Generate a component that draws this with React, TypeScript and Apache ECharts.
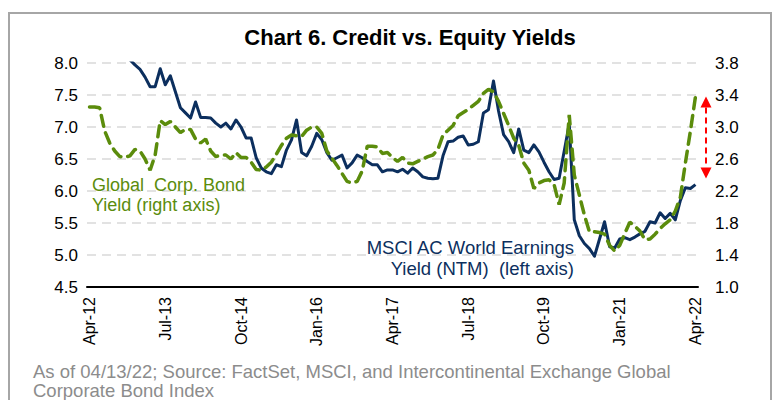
import React, { useEffect, useRef } from "react";
import * as echarts from "echarts";

const monthNames = ["Jan", "Feb", "Mar", "Apr", "May", "Jun", "Jul", "Aug", "Sep", "Oct", "Nov", "Dec"];

// Monthly categories Apr-12 .. Apr-22
const categories: string[] = [];
for (let i = 0; i < 121; i++) {
  const mi = 3 + i;
  categories.push(monthNames[mi % 12] + "-" + String(12 + Math.floor(mi / 12)).padStart(2, "0"));
}

const tickLabels = ["Apr-12", "Jul-13", "Oct-14", "Jan-16", "Apr-17", "Jul-18", "Oct-19", "Jan-21", "Apr-22"];

// MSCI AC World earnings yield (NTM), left axis, %
const msciYield: (number | null)[] = [
  null, null, null, null, null, null, null, null, 8.05, 7.97,
  7.9, 7.78, 7.63, 7.63, 7.91, 7.66, 7.8, 7.55, 7.3, 7.22,
  7.14, 7.39, 7.15, 7.15, 7.14, 7.06, 7.0, 7.06, 6.97, 7.11,
  7.0, 6.83, 6.83, 6.52, 6.36, 6.3, 6.27, 6.41, 6.38, 6.64,
  6.8, 7.11, 6.6, 6.55, 6.7, 6.9, 6.8, 6.6, 6.48, 6.52,
  6.56, 6.36, 6.44, 6.56, 6.52, 6.46, 6.41, 6.41, 6.3, 6.33,
  6.33, 6.3, 6.34, 6.28, 6.36, 6.3, 6.22, 6.2, 6.19, 6.2,
  6.55, 6.77, 6.78, 6.84, 6.86, 6.72, 6.73, 6.77, 7.22, 7.27,
  7.72, 7.25, 6.88, 6.77, 6.6, 6.97, 6.64, 6.6, 6.72, 6.61,
  6.45, 6.3, 6.18, 6.2, 6.62, 7.05, 5.55, 5.3, 5.18, 5.1,
  4.98, 5.25, 5.52, 5.13, 5.11, 5.25, 5.27, 5.24, 5.28, 5.33,
  5.37, 5.52, 5.5, 5.66, 5.57, 5.65, 5.55, 5.85, 6.05, 6.04,
  6.1,
];

// Global corporate bond yield, right axis, %
const corpBondYield: number[] = [
  3.25, 3.25, 3.24, 2.95, 2.8, 2.7, 2.63, 2.62, 2.64, 2.72,
  2.7, 2.6, 2.46, 2.65, 3.08, 3.03, 3.07, 3.0, 2.93, 2.97,
  2.97, 2.85, 2.8, 2.85, 2.7, 2.63, 2.65, 2.65, 2.6, 2.68,
  2.62, 2.62, 2.56, 2.47, 2.46, 2.5, 2.56, 2.66, 2.77, 2.86,
  2.9, 2.89, 2.88, 2.96, 3.0, 3.0, 2.92, 2.7, 2.61, 2.52,
  2.42, 2.32, 2.3, 2.32, 2.45, 2.76, 2.76, 2.75, 2.67, 2.68,
  2.62, 2.57, 2.62, 2.55, 2.54, 2.57, 2.6, 2.63, 2.65, 2.72,
  2.9, 2.96, 3.02, 3.14, 3.18, 3.22, 3.27, 3.32, 3.42, 3.47,
  3.44, 3.32, 3.17, 3.02, 2.86, 2.77, 2.55, 2.46, 2.23, 2.3,
  2.33, 2.34, 2.28, 2.03, 2.3, 3.15, 2.4, 2.15, 1.9, 1.69,
  1.69, 1.68, 1.66, 1.52, 1.45, 1.52, 1.67, 1.81, 1.76, 1.7,
  1.59, 1.6, 1.66, 1.73, 1.79, 1.84, 1.95, 2.12, 2.55, 2.95,
  3.38,
];

const NAVY = "#0c2f5e";
const GREEN = "#5b8c0c";
const FONT = "'Liberation Sans', Arial, sans-serif";

export default function App() {
  const ref = useRef<HTMLDivElement>(null);

  useEffect(() => {
    if (!ref.current) return;
    const chart = echarts.init(ref.current, undefined, { renderer: "svg" });

    const option: any = {
      animation: false,
      backgroundColor: "#ffffff",
      grid: { left: 87, right: 77, top: 63, bottom: 113 },
      xAxis: {
        type: "category",
        data: categories,
        boundaryGap: true,
        axisLine: { lineStyle: { color: "#000", width: 2 } },
        axisTick: { show: false },
        axisLabel: {
          rotate: 90,
          interval: (_i: number, v: string) => tickLabels.includes(v),
          fontSize: 16,
          fontFamily: FONT,
          color: "#000",
          margin: 10,
        },
        splitLine: { show: false },
      },
      yAxis: [
        {
          type: "value",
          position: "left",
          min: 4.5,
          max: 8.0,
          interval: 0.5,
          axisLine: { show: false },
          axisTick: { show: false },
          axisLabel: {
            formatter: (v: number) => v.toFixed(1),
            fontSize: 17,
            fontFamily: FONT,
            color: "#000",
            margin: 9,
          },
          splitLine: { lineStyle: { color: "#d9d9d9", width: 1.5, type: [9, 6] } },
        },
        {
          type: "value",
          position: "right",
          min: 1.0,
          max: 3.8,
          interval: 0.4,
          axisLine: { show: false },
          axisTick: { show: false },
          axisLabel: {
            formatter: (v: number) => v.toFixed(1),
            fontSize: 17,
            fontFamily: FONT,
            color: "#000",
            margin: 17,
          },
          splitLine: { show: false },
        },
      ],
      series: [
        {
          name: "MSCI AC World Earnings Yield (NTM)",
          type: "line",
          yAxisIndex: 0,
          data: msciYield,
          symbol: "none",
          clip: true,
          lineStyle: { color: NAVY, width: 3, join: "round" },
        },
        {
          name: "Global Corp. Bond Yield",
          type: "line",
          yAxisIndex: 1,
          data: corpBondYield,
          symbol: "none",
          clip: true,
          lineStyle: { color: GREEN, width: 3.5, type: [11, 7], cap: "round" },
        },
      ],
    };
    chart.setOption(option);

    const lastIdx = categories.length - 1;
    const gY = chart.convertToPixel({ yAxisIndex: 1 }, corpBondYield[lastIdx]) as number;
    const mY = chart.convertToPixel({ yAxisIndex: 0 }, msciYield[lastIdx] as number) as number;
    const ax = 706;
    const top = gY;
    const bot = mY - 6;
    const head = 11;

    chart.setOption({
      graphic: [
        {
          type: "rect",
          shape: { x: 9, y: 13, width: 762, height: 400 },
          style: { fill: "none", stroke: "#a6a6a6", lineWidth: 2 },
          silent: true,
        },
        {
          type: "text",
          x: 410,
          y: 37,
          style: {
            text: "Chart 6. Credit vs. Equity Yields",
            font: "bold 22px 'Liberation Sans', Arial, sans-serif",
            fill: "#000",
            align: "center",
            verticalAlign: "middle",
          },
        },
        {
          type: "text",
          x: 92,
          y: 195,
          style: {
            text: "Global  Corp. Bond\nYield (right axis)",
            font: "18px 'Liberation Sans', Arial, sans-serif",
            fill: GREEN,
            align: "left",
            verticalAlign: "middle",
            lineHeight: 20,
          },
        },
        {
          type: "text",
          x: 574,
          y: 258,
          style: {
            text: "MSCI AC World Earnings\nYield (NTM)  (left axis)",
            font: "18.5px 'Liberation Sans', Arial, sans-serif",
            fill: NAVY,
            align: "right",
            verticalAlign: "middle",
            lineHeight: 21,
          },
        },
        {
          type: "text",
          x: 33,
          y: 381,
          style: {
            text: "As of 04/13/22; Source: FactSet, MSCI, and Intercontinental Exchange Global\nCorporate Bond Index",
            font: "18.5px 'Liberation Sans', Arial, sans-serif",
            fill: "#8c8c8c",
            align: "left",
            verticalAlign: "middle",
            lineHeight: 19,
          },
        },
        {
          type: "line",
          shape: { x1: ax, y1: top + head, x2: ax, y2: bot - head },
          style: { stroke: "#ff0000", lineWidth: 2, lineDash: [6, 4] },
        },
        {
          type: "polygon",
          shape: { points: [[ax, top], [ax - 5.5, top + head], [ax + 5.5, top + head]] },
          style: { fill: "#ff0000" },
        },
        {
          type: "polygon",
          shape: { points: [[ax, bot], [ax - 5.5, bot - head], [ax + 5.5, bot - head]] },
          style: { fill: "#ff0000" },
        },
      ],
    });

    return () => chart.dispose();
  }, []);

  return (
    <div
      ref={ref}
      style={{ position: "fixed", left: 0, top: 0, width: 775, height: 400, background: "#fff" }}
    />
  );
}
